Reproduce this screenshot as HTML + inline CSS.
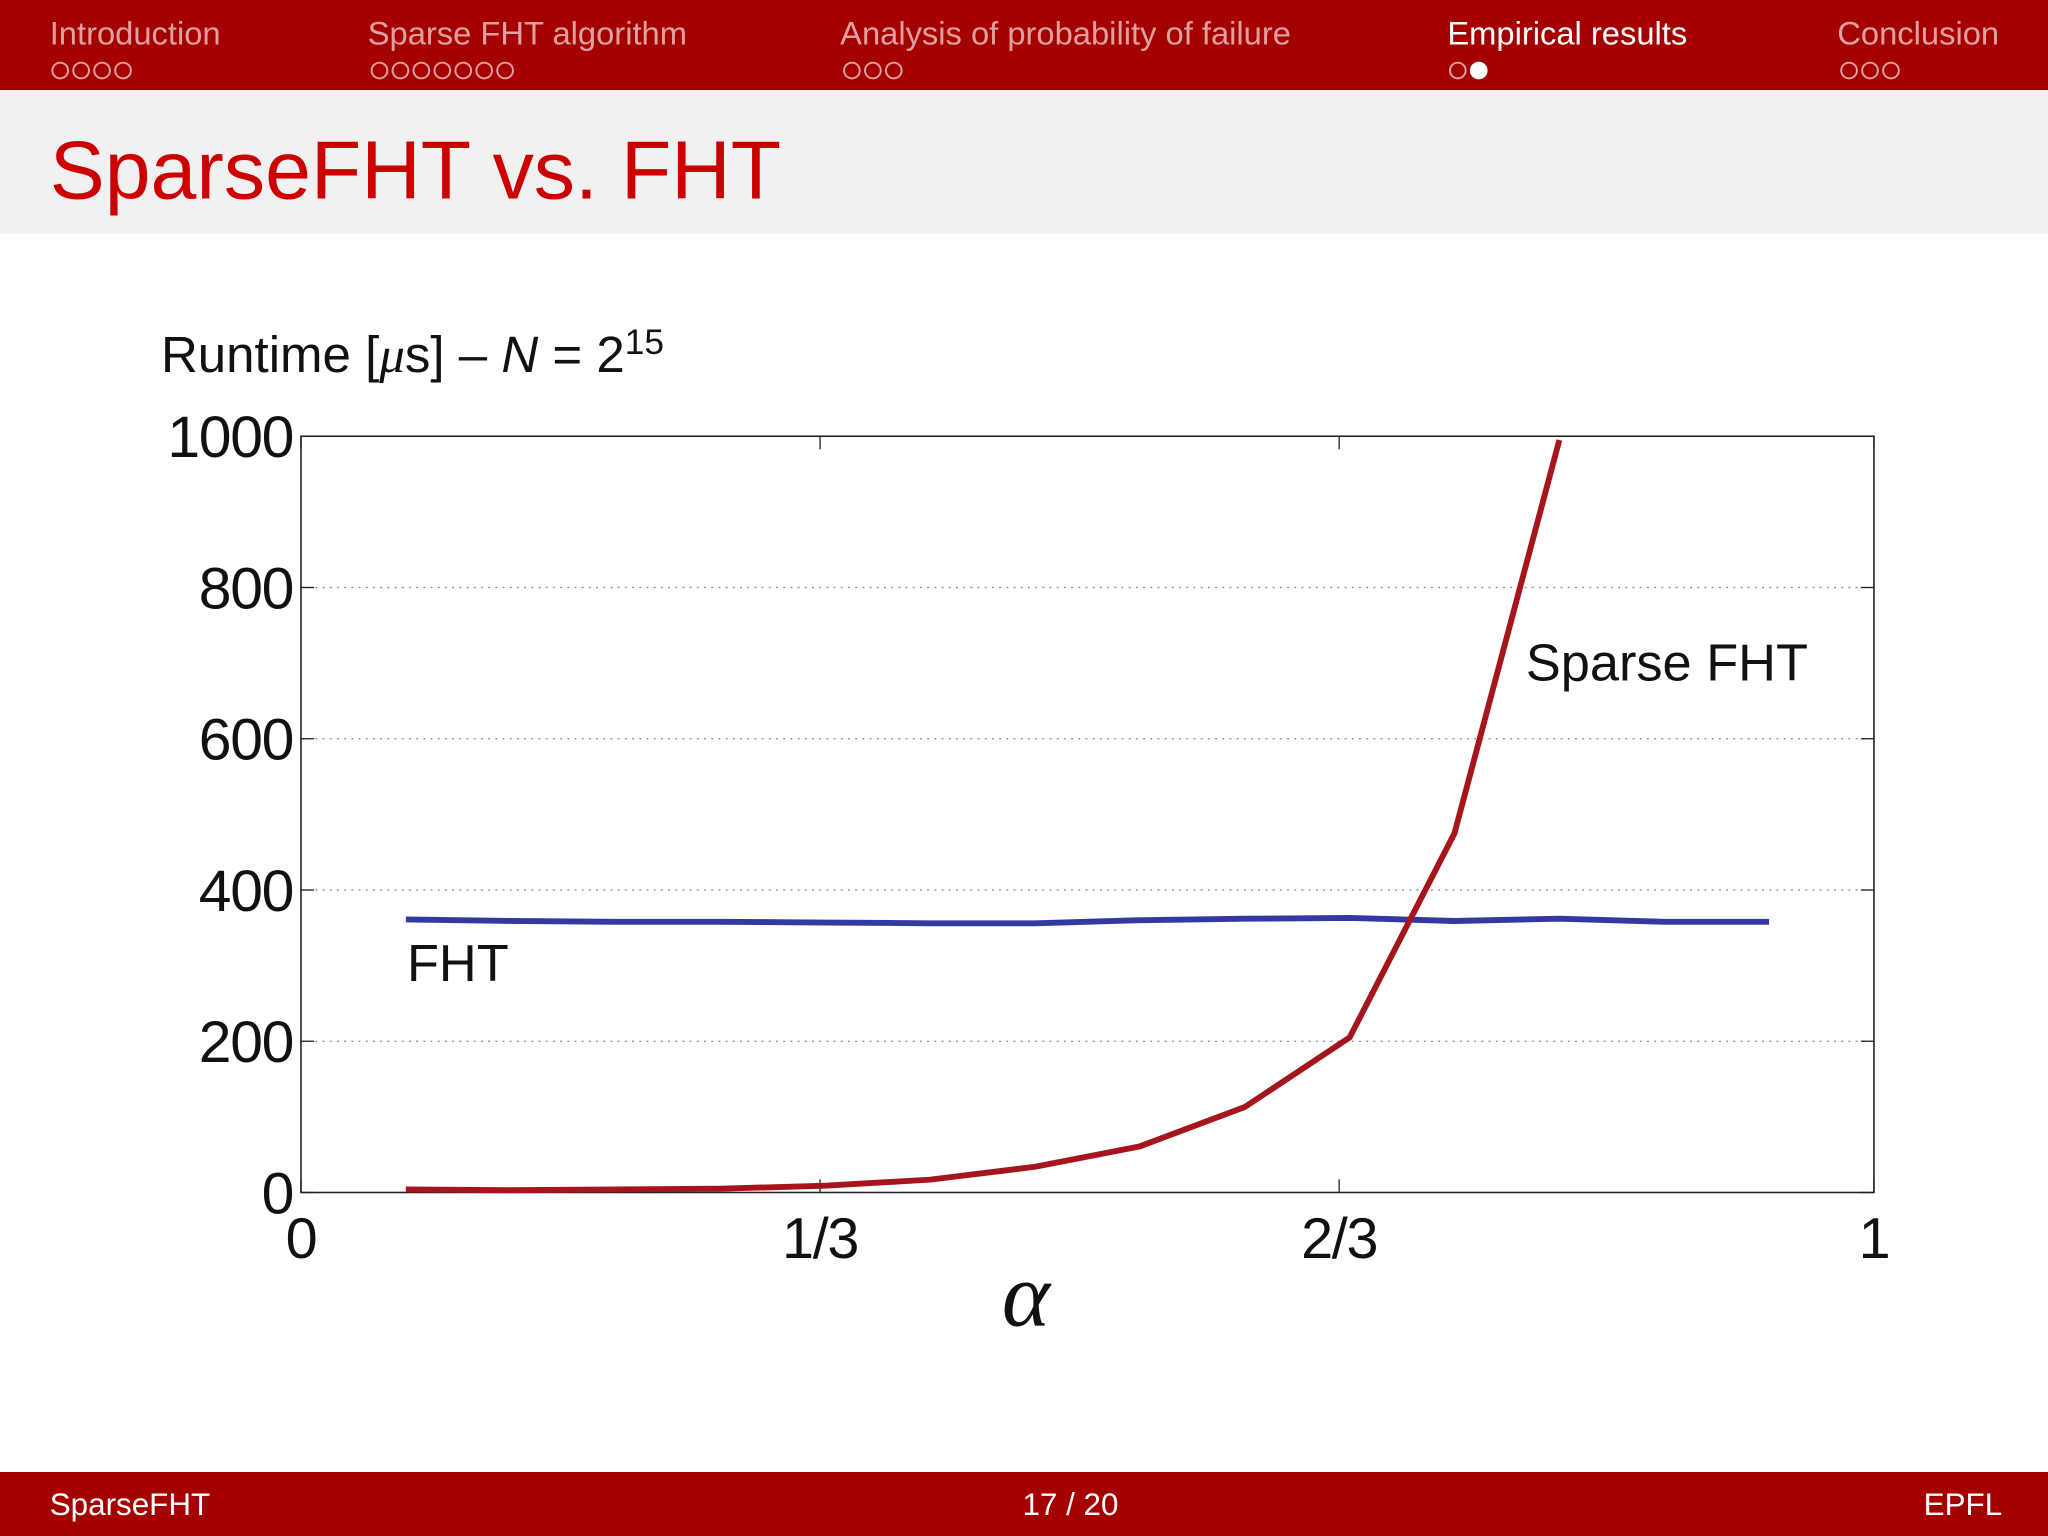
<!DOCTYPE html>
<html><head><meta charset="utf-8"><style>
html,body{margin:0;padding:0;background:#fff;}
svg{display:block;font-family:"Liberation Sans",sans-serif;}
</style></head><body>
<svg id="slide" width="2048" height="1536" viewBox="0 0 1565 1176" preserveAspectRatio="none" xmlns="http://www.w3.org/2000/svg">
<rect x="0" y="0" width="1565" height="69" fill="#a50000"/>
<g fill="#e0a0a0"><text x="38" y="34" font-size="25">Introduction</text></g>
<g fill="#e0a0a0"><text x="281" y="34" font-size="25">Sparse FHT algorithm</text></g>
<g fill="#e0a0a0"><text x="642" y="34" font-size="25">Analysis of probability of failure</text></g>
<g fill="#ffffff"><text x="1106" y="34" font-size="25">Empirical results</text></g>
<g fill="#e0a0a0"><text x="1404" y="34" font-size="25">Conclusion</text></g>
<g id="dots"></g>
<rect x="0" y="69" width="1565" height="110" fill="#f2f1f2"/>
<text x="38" y="152" font-size="63" fill="#cc0000">SparseFHT vs. FHT</text>
<text x="123" y="285" font-size="39" fill="#111">Runtime [<tspan font-family="Liberation Serif" font-style="italic">μ</tspan>s] – <tspan font-style="italic">N</tspan>  =  2<tspan font-size="27" dy="-14">15</tspan></text>
<g id="chart"></g>
<text x="784" y="1015" font-size="70" font-style="italic" font-family="Liberation Serif" text-anchor="middle" fill="#111">α</text>
<rect x="0" y="1127" width="1565" height="49" fill="#a50000"/>
<text x="38" y="1160" font-size="24" fill="#fff">SparseFHT</text>
<text x="818" y="1160" font-size="24" fill="#fff" text-anchor="middle">17 / 20</text>
<text x="1530" y="1160" font-size="24" fill="#fff" text-anchor="end">EPFL</text>
</svg>
<script>
const alphas=[1/15,2/15,3/15,4/15,5/15,6/15,7/15,8/15,9/15,10/15,11/15,12/15,13/15,14/15];
const fhtValues=[361,359,358,358,357,356,356,360,362,363,359,362,358,358];
const sparseValues=[4,3,4,5,9,17,34,61,113,205,475,995];
const yTicks=[0,200,400,600,800,1000];
const xTicks=[0,0.33,0.66,1];
const xTickLabels=["0","1/3","2/3","1"];
const NS="http://www.w3.org/2000/svg";
const L=230,R=1432,T=334,B=913;
const xs=v=>L+(R-L)*v, ys=v=>B-(B-T)*v/1000;
const g=document.getElementById('chart');
function mk(t,a,p){const e=document.createElementNS(NS,t);for(const k in a)e.setAttribute(k,a[k]);(p||g).appendChild(e);return e;}
const dg=document.getElementById('dots');
const dotSets=[[40,4,-1],[284,7,-1],[645,3,-1],[1108,2,1],[1407,3,-1]];
dotSets.forEach(([x0,n,act])=>{for(let i=0;i<n;i++){const c=mk('circle',{cx:x0+6+i*16,cy:54,r:6,fill:i===act?'#fff':'none',stroke:i===act?'#fff':'#e0a0a0','stroke-width':1.5},dg);

}});
yTicks.forEach(v=>{
 if(v>0&&v<1000){const l=mk('line',{x1:L,x2:R,y1:ys(v),y2:ys(v),stroke:'#888','stroke-dasharray':'1.5 4','stroke-width':1});
 
 }
 mk('line',{x1:L,x2:L+10,y1:ys(v),y2:ys(v),stroke:'#222'});
 mk('line',{x1:R,x2:R-10,y1:ys(v),y2:ys(v),stroke:'#222'});
 const t=mk('text',{x:L-6,y:ys(v)+16,'font-size':45,'text-anchor':'end',fill:'#111','letter-spacing':'-1'});t.textContent=v;
 
 
});
xTicks.forEach((v,i)=>{
 mk('line',{x1:xs(v),x2:xs(v),y1:B,y2:B-10,stroke:'#222'});
 mk('line',{x1:xs(v),x2:xs(v),y1:T,y2:T+10,stroke:'#222'});
 const t=mk('text',{x:xs(v),y:B+50,'font-size':44,'text-anchor':'middle',fill:'#111','letter-spacing':'-1'});t.textContent=xTickLabels[i];
 
 
});
const frame=mk('rect',{x:L,y:T,width:R-L,height:B-T,fill:'none',stroke:'#222','stroke-width':1.2});


const fl=mk('polyline',{points:alphas.map((a,i)=>xs(a)+','+ys(fhtValues[i])).join(' '),fill:'none',stroke:'#3339a0','stroke-width':4.5});


const sl=mk('polyline',{points:sparseValues.map((v,i)=>xs(alphas[i])+','+ys(v)).join(' '),fill:'none',stroke:'#a5151b','stroke-width':4.5});


const l1=mk('text',{x:311,y:751,'font-size':40,fill:'#111'});l1.textContent='FHT';


const l2=mk('text',{x:1166,y:521,'font-size':40,fill:'#111'});l2.textContent='Sparse FHT';


</script>
</body></html>
